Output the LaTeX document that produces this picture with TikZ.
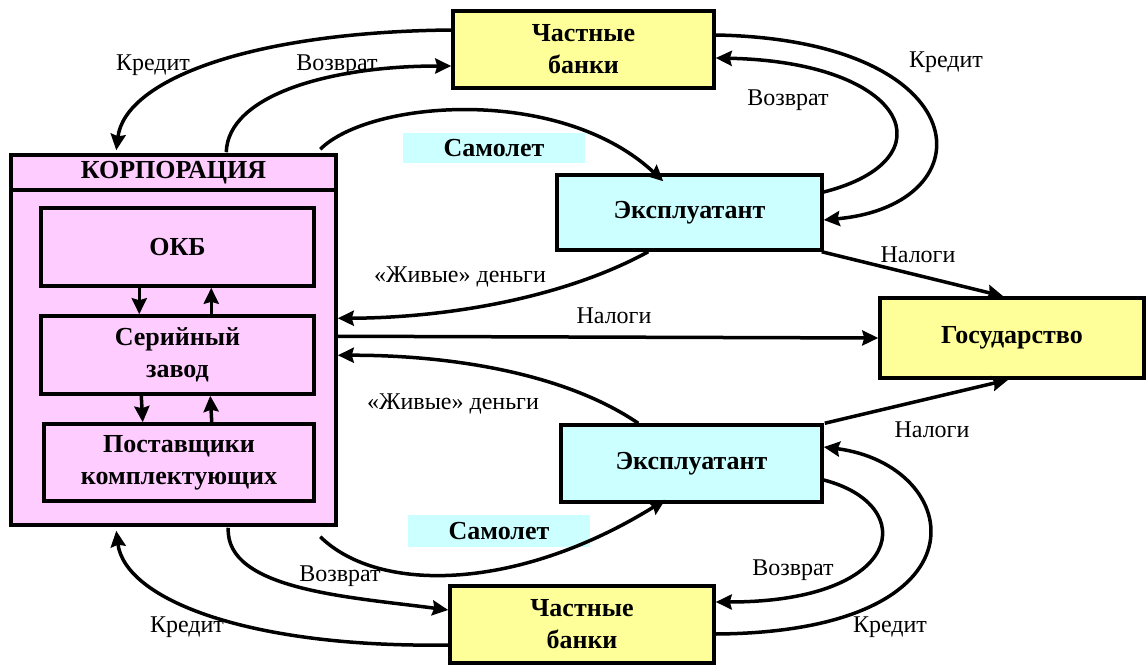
\documentclass[tikz,border=0pt]{standalone}
\usepackage{fontspec}
\setmainfont{Liberation Serif}
\usetikzlibrary{arrows.meta,calc}
\definecolor{pinkbox}{HTML}{FFCCFF}
\definecolor{yelbox}{HTML}{FFFF99}
\definecolor{cyanbox}{HTML}{CCFFFF}
\begin{document}
\begin{tikzpicture}[x=1pt,y=-1pt,
  box/.style={draw=black,line width=3.5pt,rectangle,inner sep=0pt,align=center,
    font=\fontsize{26}{32}\selectfont\bfseries},
  yb/.style={box,fill=yelbox},
  cb/.style={box,fill=cyanbox},
  pb/.style={box,fill=pinkbox},
  lab/.style={inner sep=0pt,font=\fontsize{24}{26}\selectfont},
  sam/.style={fill=cyanbox,inner sep=0pt,font=\fontsize{26}{28}\selectfont\bfseries},
  arr/.style={line width=3.5pt,-{Stealth[length=16pt,width=15pt,inset=2pt]}}]
\useasboundingbox (0,0) rectangle (1148,666);
% boxes
\node[yb,minimum width=261,minimum height=77] (bankT) at (583.5,49.5) {Частные\\банки};
\node[cb,minimum width=265,minimum height=75] (expT) at (689.5,212.5) {Эксплуатант};
\node[yb,minimum width=264,minimum height=80] (gov) at (1012,338) {Государство};
\node[cb,minimum width=261,minimum height=77] (expB) at (691.5,463.5) {Эксплуатант};
\node[yb,minimum width=264,minimum height=77] (bankB) at (582,624.5) {Частные\\банки};
\node[pb,minimum width=325,minimum height=335] (corp) at (173.5,357.5) {};
\node[pb,minimum width=325,minimum height=35] (corphead) at (173.5,172.5) {КОРПОРАЦИЯ};
\node[pb,minimum width=273,minimum height=78] (okb) at (177.5,247) {\raisebox{-14pt}{ОКБ}};
\node[pb,minimum width=273,minimum height=78] (ser) at (177.5,355) {Серийный\\завод};
\node[pb,minimum width=270,minimum height=77] (sup) at (179,462.5) {Поставщики\\комплектующих};
\node[sam,minimum width=182,minimum height=30] (samT) at (494,148) {Самолет};
\node[sam,minimum width=182,minimum height=32] (samB) at (499,531) {Самолет};
% inner arrows
\draw[arr] ($(okb.south west)+(100,0)$) -- ($(ser.north west)+(100,0)$);
\draw[arr] ($(ser.north west)+(172,0)$) -- ($(okb.south west)+(172,0)$);
\draw[arr] ($(ser.south west)+(102,0)$) -- ($(sup.north west)+(100.5,0)$);
\draw[arr] ($(sup.north west)+(169.5,0)$) -- ($(ser.south west)+(171,0)$);
% top banks
\draw[arr] ([yshift=19.5pt]bankT.west) .. controls (250,32) and (125,80) .. ($(corphead.north west)+(107,-3)$);
\draw[arr] ($(corphead.north west)+(217,-1)$) .. controls (228,95) and (330,66) .. ([yshift=-16.5pt]bankT.west);
\draw[arr] ($(corphead.north west)+(311,-4)$) .. controls (370,100) and (560,85) .. ($(expT.north west)+(108,8)$);
\draw[arr] ([yshift=14.5pt]bankT.east) .. controls (980,40) and (990,205) .. ([yshift=-7.5pt]expT.east);
\draw[arr] ([yshift=20.5pt]expT.east) .. controls (950,160) and (910,62) .. ([yshift=-8.5pt]bankT.east);
% government
\draw[arr] ([xshift=-2pt]expT.south east) -- ($(gov.north west)+(125,0)$);
\draw[arr] ($(corp.north east)+(0,148)$) -- (gov.west);
\draw[arr] ([xshift=1pt]expB.north east) -- ($(gov.south west)+(130,0)$);
\draw[arr] ($(expT.south west)+(93,0)$) .. controls (560,300) and (440,318) .. ($(corp.north east)+(0,130)$);
\draw[arr] ($(expB.north west)+(79,0)$) .. controls (560,370) and (440,355) .. ($(corp.north east)+(0,167)$);
% bottom banks
\draw[arr] ($(corp.south west)+(311,10)$) .. controls (380,595) and (520,590) .. ($(expB.south west)+(106,-4)$);
\draw[arr] ($(corp.south west)+(219,1)$) .. controls (225,590) and (350,597) .. ([yshift=14.5pt]bankB.west);
\draw[arr] ([yshift=-20.5pt]bankB.west) .. controls (250,648) and (125,600) .. ($(corp.south west)+(107,4)$);
\draw[arr] ([yshift=-16.5pt]expB.east) .. controls (920,505) and (905,602) .. ([yshift=22.5pt]bankB.east);
\draw[arr] ([yshift=-9.5pt]bankB.east) .. controls (995,632) and (965,465) .. ([yshift=16.5pt]expB.east);
% labels
\node[lab] (l1) at (153,65) {Кредит};
\node[lab] (l2) at (337,65) {Возврат};
\node[lab] (l3) at (946,62) {Кредит};
\node[lab] (l4) at (788,100) {Возврат};
\node[lab] (l5) at (918,255) {Налоги};
\node[lab] (l6) at (460,277) {«Живые» деньги};
\node[lab] (l7) at (614,316) {Налоги};
\node[lab] (l8) at (453,404) {«Живые» деньги};
\node[lab] (l9) at (932,430) {Налоги};
\node[lab] (l10) at (340,576) {Возврат};
\node[lab] (l11) at (187,627) {Кредит};
\node[lab] (l12) at (793,570) {Возврат};
\node[lab] (l13) at (890,627) {Кредит};
\end{tikzpicture}
\end{document}
